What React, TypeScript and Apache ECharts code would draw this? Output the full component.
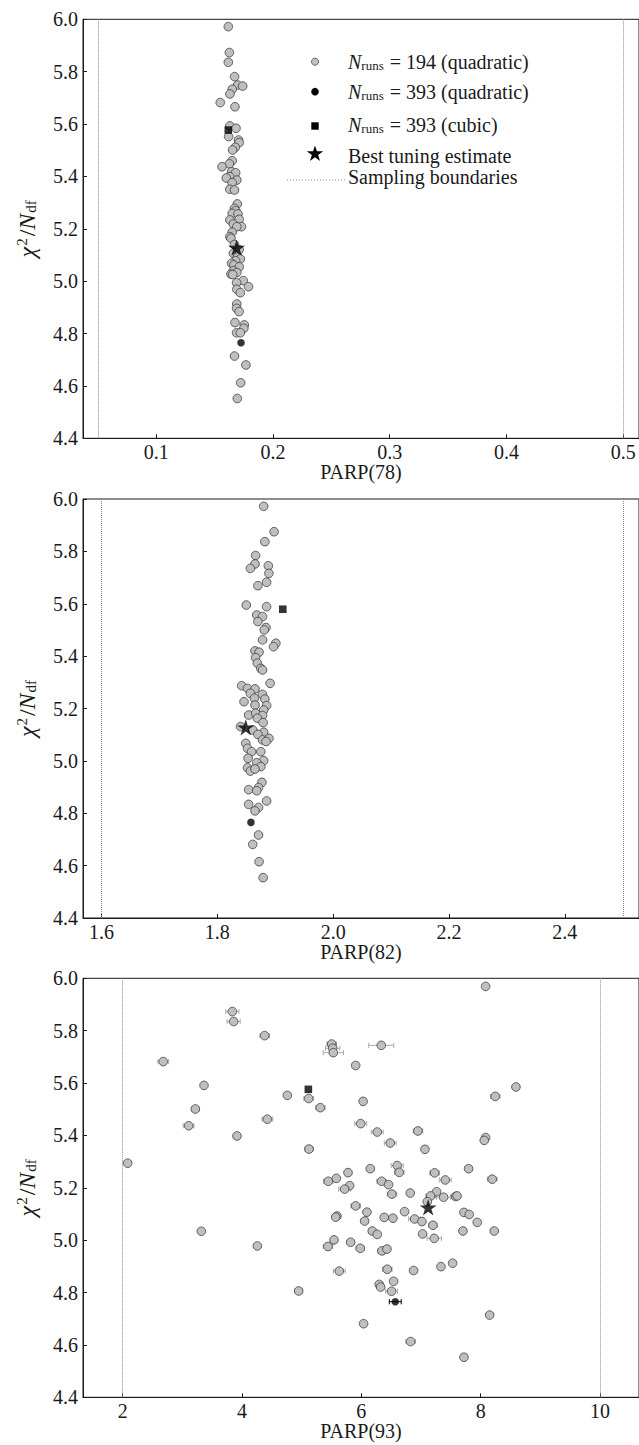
import React, { useEffect, useRef } from "react";
import * as echarts from "echarts";

// ---------- data ----------
const yRange = [4.4, 6.0];
const yStep = 0.2;

const parp78Extent = [0.0372, 0.5136];
const parp78Bounds = [0.05, 0.5];
const parp78Runs194: number[][] = [
  [0.1617, 5.972], [0.1626, 5.873], [0.1617, 5.836], [0.1671, 5.781], [0.1697, 5.749], [0.174, 5.745],
  [0.1651, 5.733], [0.1631, 5.715], [0.1548, 5.682], [0.1674, 5.666], [0.163, 5.593], [0.1683, 5.584],
  [0.162, 5.552], [0.1705, 5.539], [0.171, 5.529], [0.1677, 5.511], [0.1654, 5.501], [0.165, 5.46],
  [0.1626, 5.448], [0.1563, 5.437], [0.1645, 5.418], [0.168, 5.414], [0.163, 5.399], [0.16, 5.394],
  [0.169, 5.386], [0.165, 5.376], [0.163, 5.351], [0.167, 5.348], [0.1694, 5.295], [0.167, 5.278],
  [0.168, 5.269], [0.165, 5.259], [0.17, 5.257], [0.163, 5.234], [0.171, 5.236], [0.166, 5.218],
  [0.173, 5.208], [0.169, 5.208], [0.165, 5.187], [0.163, 5.17], [0.164, 5.164], [0.167, 5.14],
  [0.171, 5.12], [0.166, 5.106], [0.1694, 5.091], [0.172, 5.085], [0.168, 5.078], [0.1645, 5.068],
  [0.1665, 5.062], [0.171, 5.055], [0.166, 5.04], [0.169, 5.033], [0.164, 5.027], [0.1655, 5.025],
  [0.1745, 5.002], [0.1688, 4.994], [0.179, 4.979], [0.169, 4.969], [0.172, 4.956], [0.169, 4.913],
  [0.1688, 4.896], [0.171, 4.884], [0.1674, 4.842], [0.1754, 4.833], [0.175, 4.82], [0.1688, 4.803],
  [0.172, 4.803], [0.167, 4.714], [0.1768, 4.68], [0.1723, 4.612], [0.1694, 4.552],
];
const parp78Quad393 = [[0.1726, 4.765]];
const parp78Cubic393 = [[0.1617, 5.577]];
const parp78Best = [[0.1688, 5.128]];

const parp82Extent = [1.568, 2.528];
const parp82Bounds = [1.6, 2.5];
const parp82Runs194: number[][] = [
  [1.88, 5.972], [1.898, 5.875], [1.882, 5.837], [1.866, 5.784], [1.865, 5.752], [1.857, 5.735],
  [1.888, 5.745], [1.889, 5.716], [1.885, 5.682], [1.87, 5.669], [1.85, 5.595], [1.885, 5.589],
  [1.868, 5.557], [1.878, 5.551], [1.87, 5.532], [1.884, 5.509], [1.881, 5.5], [1.878, 5.462],
  [1.901, 5.449], [1.897, 5.436], [1.865, 5.42], [1.872, 5.415], [1.866, 5.394], [1.869, 5.373],
  [1.875, 5.353], [1.878, 5.347], [1.891, 5.296], [1.842, 5.287], [1.852, 5.277], [1.865, 5.275],
  [1.857, 5.258], [1.878, 5.254], [1.846, 5.226], [1.864, 5.239], [1.882, 5.236], [1.865, 5.213],
  [1.885, 5.211], [1.88, 5.194], [1.854, 5.175], [1.866, 5.182], [1.878, 5.173], [1.869, 5.163],
  [1.879, 5.146], [1.84, 5.131], [1.861, 5.118], [1.88, 5.109], [1.87, 5.101], [1.878, 5.08],
  [1.889, 5.086], [1.884, 5.074], [1.849, 5.067], [1.852, 5.048], [1.859, 5.035], [1.875, 5.035],
  [1.88, 5.001], [1.868, 4.993], [1.853, 5.01], [1.852, 4.974], [1.875, 4.978], [1.857, 4.961],
  [1.865, 4.969], [1.877, 4.918], [1.854, 4.89], [1.871, 4.898], [1.868, 4.886], [1.854, 4.834],
  [1.871, 4.822], [1.885, 4.847], [1.865, 4.809], [1.871, 4.717], [1.861, 4.681], [1.872, 4.615],
  [1.879, 4.554],
];
const parp82Quad393 = [[1.858, 4.765]];
const parp82Cubic393 = [[1.913, 5.579]];
const parp82Best = [[1.849, 5.128]];

const parp93Extent = [1.335, 10.654];
const parp93Bounds = [2, 10];
// [PARP(93), chi2/Ndf, half width of the error bar]
const parp93Runs194: number[][] = [
  [3.838, 5.873, 0.11], [3.86, 5.835, 0.11], [4.38, 5.781, 0.08], [5.503, 5.749, 0.08], [5.52, 5.733, 0.12],
  [5.53, 5.716, 0.17], [5.905, 5.667, 0.03], [2.68, 5.682, 0.09], [3.363, 5.591, 0.03], [4.76, 5.553, 0.05],
  [5.117, 5.541, 0.08], [5.313, 5.506, 0.08], [6.03, 5.53, 0.03], [3.218, 5.501, 0.06], [3.106, 5.437, 0.09],
  [4.425, 5.462, 0.09], [5.989, 5.445, 0.1], [3.916, 5.398, 0.06], [5.123, 5.348, 0.07], [2.084, 5.294, 0.0],
  [5.777, 5.258, 0.06], [5.581, 5.236, 0.03], [5.447, 5.225, 0.08], [5.804, 5.208, 0.03], [5.72, 5.195, 0.1],
  [8.083, 5.969, 0.0], [6.334, 5.744, 0.21], [8.591, 5.585, 0.03], [8.245, 5.549, 0.08], [6.267, 5.413, 0.1],
  [6.949, 5.417, 0.08], [6.485, 5.371, 0.1], [8.083, 5.392, 0.05], [8.06, 5.381, 0.05], [7.066, 5.347, 0.03],
  [6.15, 5.273, 0.06], [6.602, 5.285, 0.1], [6.636, 5.259, 0.08], [7.228, 5.257, 0.08], [7.798, 5.273, 0.06],
  [7.407, 5.23, 0.1], [8.194, 5.233, 0.08], [6.34, 5.225, 0.08], [6.457, 5.212, 0.04], [6.513, 5.176, 0.08],
  [6.82, 5.18, 0.03], [7.261, 5.185, 0.04], [7.161, 5.169, 0.08], [7.379, 5.164, 0.12], [7.58, 5.167, 0.08],
  [7.605, 5.169, 0.03], [7.105, 5.147, 0.03], [5.905, 5.131, 0.08], [6.094, 5.107, 0.03], [6.055, 5.073, 0.03],
  [6.725, 5.109, 0.03], [6.893, 5.081, 0.1], [7.016, 5.071, 0.03], [7.2, 5.057, 0.07], [6.384, 5.087, 0.06],
  [6.53, 5.084, 0.03], [7.72, 5.106, 0.04], [7.809, 5.098, 0.03], [7.943, 5.068, 0.03], [6.183, 5.035, 0.05],
  [6.267, 5.022, 0.03], [7.027, 5.024, 0.04], [7.222, 5.007, 0.12], [7.703, 5.035, 0.03], [8.228, 5.035, 0.05],
  [5.982, 4.969, 0.07], [6.345, 4.959, 0.07], [6.429, 4.966, 0.03], [6.435, 4.889, 0.08], [6.876, 4.884, 0.06],
  [7.334, 4.899, 0.03], [7.53, 4.912, 0.03], [6.541, 4.843, 0.03], [6.3, 4.831, 0.06], [6.323, 4.821, 0.04],
  [6.507, 4.805, 0.1], [8.15, 4.714, 0.03], [6.038, 4.681, 0.03], [6.826, 4.613, 0.08], [7.72, 4.553, 0.03],
  [5.592, 5.092, 0.06], [5.57, 5.088, 0.03], [3.318, 5.034, 0.03], [4.257, 4.978, 0.03], [5.542, 5.001, 0.03],
  [5.441, 4.976, 0.08], [5.821, 4.992, 0.06], [5.631, 4.882, 0.1], [4.95, 4.806, 0.06],
];
const parp93Quad393 = [[6.569, 4.765, 0.1]];
const parp93Cubic393 = [[5.112, 5.576]];
const parp93Best = [[7.12, 5.125]];

const axisNames = ["PARP(78)", "PARP(82)", "PARP(93)"];
const legendLabels = [
  "{n|N}{s|runs}{t| = 194 (quadratic)}",
  "{n|N}{s|runs}{t| = 393 (quadratic)}",
  "{n|N}{s|runs}{t| = 393 (cubic)}",
  "{t|Best tuning estimate}",
  "{t|Sampling boundaries}",
];

// ---------- styles ----------
const FONT = "'Liberation Serif', 'Times New Roman', serif";
const INK = "#1a1a1a";
const GRAY_FILL = "#bfbfbf";
const GRAY_EDGE = "#3c3c3c";
const STAR =
  "path://M0,-1 L0.2245,-0.309 L0.951,-0.309 L0.363,0.118 L0.588,0.809 L0,0.382 L-0.588,0.809 L-0.363,0.118 L-0.951,-0.309 L-0.2245,-0.309 Z";

const panels = [
  { extent: parp78Extent, bounds: parp78Bounds, gray: parp78Runs194, quad: parp78Quad393, cubic: parp78Cubic393, best: parp78Best, dec: 1, errors: false },
  { extent: parp82Extent, bounds: parp82Bounds, gray: parp82Runs194, quad: parp82Quad393, cubic: parp82Cubic393, best: parp82Best, dec: 1, errors: false },
  { extent: parp93Extent, bounds: parp93Bounds, gray: parp93Runs194, quad: parp93Quad393, cubic: parp93Cubic393, best: parp93Best, dec: 0, errors: true },
];
const gridTops = [19.3, 499, 978.3];
const GRID_H = 419;
const GRID_LEFT = 83;

function errorBarSeries(idx: number, data: number[][], color: string, z: number) {
  return {
    type: "custom",
    xAxisIndex: idx,
    yAxisIndex: idx,
    coordinateSystem: "cartesian2d",
    data,
    encode: { x: 0, y: 1 },
    z,
    silent: true,
    renderItem: (params: any, api: any) => {
      const x = api.value(0);
      const y = api.value(1);
      const e = api.value(2);
      if (!e) return null;
      const p1 = api.coord([x - e, y]);
      const p2 = api.coord([x + e, y]);
      const c = 2.6;
      const style = { stroke: color, lineWidth: 1, fill: "none" };
      return {
        type: "group",
        children: [
          { type: "line", shape: { x1: p1[0], y1: p1[1], x2: p2[0], y2: p2[1] }, style },
          { type: "line", shape: { x1: p1[0], y1: p1[1] - c, x2: p1[0], y2: p1[1] + c }, style },
          { type: "line", shape: { x1: p2[0], y1: p2[1] - c, x2: p2[0], y2: p2[1] + c }, style },
        ],
      };
    },
  };
}

function starPoints(cx: number, cy: number, r: number) {
  const pts: number[][] = [];
  for (let i = 0; i < 10; i++) {
    const rr = i % 2 === 0 ? r : r * 0.382;
    const a = -Math.PI / 2 + (i * Math.PI) / 5;
    pts.push([cx + rr * Math.cos(a), cy + rr * Math.sin(a)]);
  }
  return pts;
}

function buildOption() {
  const grid = gridTops.map((top) => ({
    left: GRID_LEFT,
    top,
    width: 639 - GRID_LEFT,
    height: GRID_H,
    show: true,
    borderColor: INK,
    borderWidth: 1,
    backgroundColor: "transparent",
    outerBoundsMode: "none",
    containLabel: false,
  }));

  const xAxis = panels.map((p, i) => ({
    type: "value",
    gridIndex: i,
    min: p.extent[0],
    max: p.extent[1],
    name: axisNames[i],
    nameLocation: "middle",
    nameGap: 24,
    nameMoveOverlap: false,
    nameTextStyle: { fontFamily: FONT, fontSize: 20, color: INK, lineHeight: 20 },
    axisLine: { show: true, lineStyle: { color: INK, width: 1 } },
    axisTick: { show: true, inside: true, length: 4, lineStyle: { color: INK } },
    splitLine: { show: false },
    axisLabel: {
      show: true,
      showMinLabel: false,
      showMaxLabel: false,
      margin: 4,
      fontFamily: FONT,
      fontSize: 20,
      lineHeight: 20,
      color: INK,
      formatter: (v: number) => v.toFixed(p.dec),
    },
  }));

  const yAxis = panels.map((p, i) => ({
    type: "value",
    gridIndex: i,
    min: yRange[0],
    max: yRange[1],
    interval: yStep,
    name: "{i|χ}{sup|2}{t|/}{i|N}{sub|df}",
    nameLocation: "middle",
    nameRotate: 90,
    nameGap: 43,
    nameMoveOverlap: false,
    nameTextStyle: {
      fontFamily: FONT,
      color: INK,
      rich: {
        i: { fontFamily: FONT, fontSize: 24, fontStyle: "italic", lineHeight: 26, color: INK },
        t: { fontFamily: FONT, fontSize: 24, lineHeight: 26, color: INK },
        sup: { fontFamily: FONT, fontSize: 15, lineHeight: 15, padding: [0, 2, 11, 1], color: INK },
        sub: { fontFamily: FONT, fontSize: 15, lineHeight: 15, padding: [9, 0, 2, 1], color: INK },
      },
    },
    axisLine: { show: true, lineStyle: { color: INK, width: 1 } },
    axisTick: { show: true, inside: true, length: 4, lineStyle: { color: INK } },
    splitLine: { show: false },
    axisLabel: {
      margin: 5,
      fontFamily: FONT,
      fontSize: 20,
      color: INK,
      formatter: (v: number) => v.toFixed(1),
    },
  }));

  const series: any[] = [];
  panels.forEach((p, i) => {
    if (p.errors) {
      series.push(errorBarSeries(i, p.gray, "#ababab", 1));
      series.push(errorBarSeries(i, p.quad, "#000000", 4));
    }
    series.push({
      type: "scatter",
      name: "N_runs = 194 (quadratic)",
      xAxisIndex: i,
      yAxisIndex: i,
      data: p.gray.map((d) => [d[0], d[1]]),
      symbol: "circle",
      symbolSize: 8.6,
      itemStyle: { color: GRAY_FILL, borderColor: GRAY_EDGE, borderWidth: 0.8, opacity: 1 },
      z: 2,
      markLine: {
        silent: true,
        symbol: ["none", "none"],
        label: { show: false },
        lineStyle: { type: "dotted", color: "#8a8a8a", width: 1 },
        data: p.bounds.map((b) => ({ xAxis: b })),
      },
    });
    series.push({
      type: "scatter",
      name: "N_runs = 393 (quadratic)",
      xAxisIndex: i,
      yAxisIndex: i,
      data: p.quad.map((d) => [d[0], d[1]]),
      symbol: "circle",
      symbolSize: 7.6,
      itemStyle: { color: "#000" },
      z: 5,
    });
    series.push({
      type: "scatter",
      name: "N_runs = 393 (cubic)",
      xAxisIndex: i,
      yAxisIndex: i,
      data: p.cubic,
      symbol: "rect",
      symbolSize: 7.6,
      itemStyle: { color: "#000" },
      z: 5,
    });
    series.push({
      type: "scatter",
      name: "Best tuning estimate",
      xAxisIndex: i,
      yAxisIndex: i,
      data: p.best,
      symbol: STAR,
      symbolKeepAspect: true,
      symbolSize: 17,
      itemStyle: { color: "#000" },
      z: 6,
    });
  });

  // legend (drawn as graphic elements in the first panel)
  const lx = 315;
  const tx = 348;
  const rows = [61.7, 91.7, 124.5, 155.5, 176.5];
  const richLegend = {
    n: { fontFamily: FONT, fontSize: 20, fontStyle: "italic", lineHeight: 22, fill: INK },
    s: { fontFamily: FONT, fontSize: 13, lineHeight: 13, padding: [8, 1, 1, 0], fill: INK },
    t: { fontFamily: FONT, fontSize: 20, lineHeight: 22, fill: INK },
  };
  const graphic: any[] = [
    { type: "circle", shape: { cx: lx, cy: rows[0], r: 3.6 }, style: { fill: GRAY_FILL, stroke: GRAY_EDGE, lineWidth: 0.7 } },
    { type: "circle", shape: { cx: lx, cy: rows[1], r: 3.8 }, style: { fill: "#000" } },
    { type: "rect", shape: { x: lx - 3.7, y: rows[2] + 1.5 - 3.7, width: 7.4, height: 7.4 }, style: { fill: "#000" } },
    { type: "polygon", shape: { points: starPoints(lx, rows[3] - 1.5, 8.6) }, style: { fill: "#000" } },
    { type: "line", shape: { x1: 287, y1: 180, x2: 345, y2: 180 }, style: { stroke: "#8a8a8a", lineWidth: 1, lineDash: [1, 2] } },
  ];
  legendLabels.forEach((lab, k) => {
    graphic.push({
      type: "text",
      x: tx,
      y: rows[k],
      style: { text: lab, rich: richLegend, align: "left", verticalAlign: "middle", fill: INK },
    });
  });

  return {
    animation: false,
    backgroundColor: "#ffffff",
    grid,
    xAxis,
    yAxis,
    series,
    graphic,
  };
}

export default function App() {
  const ref = useRef<HTMLDivElement>(null);
  useEffect(() => {
    document.body.style.margin = "0";
    if (!ref.current) return;
    const chart = echarts.init(ref.current, undefined, { renderer: "svg", width: 639, height: 1445 });
    chart.setOption(buildOption() as any);
    return () => chart.dispose();
  }, []);
  return <div ref={ref} style={{ width: 639, height: 1445 }} />;
}
